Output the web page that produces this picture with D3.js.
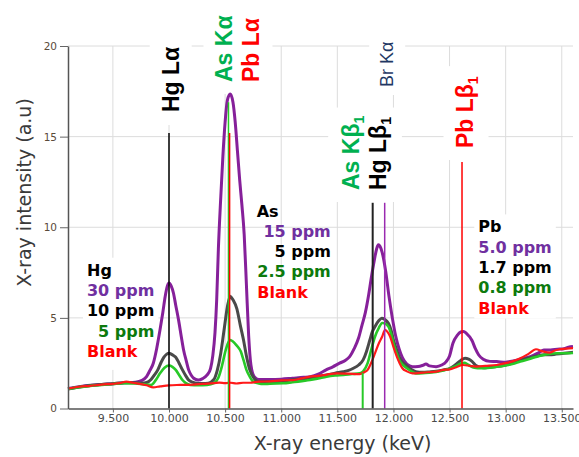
<!DOCTYPE html>
<html>
<head>
<meta charset="utf-8">
<script src="https://cdn.jsdelivr.net/npm/d3@7"></script>
<style>
  body { margin: 0; background: #fff; }
</style>
</head>
<body>
<script>
'use strict';

// ---- data ----
const xTicks = [9.5, 10.0, 10.5, 11.0, 11.5, 12.0, 12.5, 13.0, 13.5];
const yTicks = [0, 5, 10, 15, 20];

// [energy keV, intensity a.u.]
const highConc = [[9.10,1.10],[9.20,1.20],[9.30,1.28],[9.40,1.33],[9.50,1.37],[9.60,1.42],[9.70,1.45],[9.76,1.55],[9.80,1.76],[9.83,2.1],[9.86,2.5],[9.89,3.3],[9.92,4.34],[9.945,5.3],[9.966,6.18],[9.985,6.75],[10.00,6.92],[10.02,6.75],[10.04,6.36],[10.06,5.7],[10.085,4.89],[10.11,3.95],[10.13,3.23],[10.155,2.6],[10.175,2.13],[10.20,1.82],[10.22,1.67],[10.26,1.57],[10.30,1.65],[10.34,1.85],[10.37,2.2],[10.39,2.9],[10.41,4.2],[10.425,6.0],[10.44,8.8],[10.46,11.5],[10.48,13.9],[10.50,15.8],[10.52,17.0],[10.545,17.35],[10.57,16.9],[10.59,15.8],[10.61,14.2],[10.63,12.6],[10.65,11.2],[10.67,9.6],[10.69,6.8],[10.71,4.0],[10.73,2.4],[10.76,1.75],[10.80,1.6],[10.90,1.6],[11.00,1.62],[11.10,1.67],[11.20,1.72],[11.26,1.76],[11.33,1.9],[11.40,2.13],[11.46,2.3],[11.52,2.5],[11.57,2.65],[11.61,2.86],[11.65,3.3],[11.69,3.9],[11.72,4.6],[11.75,5.3],[11.78,6.3],[11.80,7.1],[11.83,8.2],[11.85,8.8],[11.865,9.03],[11.88,8.95],[11.90,8.6],[11.93,7.6],[11.96,6.2],[11.99,5.0],[12.02,4.0],[12.05,3.3],[12.08,2.8],[12.12,2.45],[12.17,2.31],[12.22,2.32],[12.26,2.38],[12.29,2.45],[12.32,2.35],[12.38,2.31],[12.43,2.4],[12.47,2.59],[12.50,2.9],[12.53,3.6],[12.57,4.05],[12.60,4.22],[12.625,4.25],[12.65,4.15],[12.70,3.75],[12.73,3.3],[12.76,2.95],[12.80,2.72],[12.86,2.6],[12.92,2.59],[13.00,2.55],[13.04,2.59],[13.13,2.72],[13.22,2.86],[13.30,3.1],[13.34,3.23],[13.40,3.23],[13.46,3.27],[13.52,3.3],[13.56,3.38],[13.60,3.42]];

const midConc = [[9.10,1.08],[9.20,1.18],[9.30,1.27],[9.40,1.33],[9.50,1.37],[9.60,1.42],[9.70,1.42],[9.76,1.40],[9.80,1.43],[9.84,1.6],[9.87,1.85],[9.90,2.13],[9.93,2.55],[9.955,2.83],[9.98,3.0],[10.00,3.05],[10.02,3.0],[10.04,2.92],[10.06,2.83],[10.09,2.5],[10.12,2.13],[10.15,1.8],[10.175,1.57],[10.21,1.45],[10.25,1.39],[10.30,1.38],[10.35,1.4],[10.40,1.6],[10.43,2.1],[10.46,3.0],[10.49,4.3],[10.52,5.6],[10.545,6.2],[10.57,6.0],[10.605,5.5],[10.635,4.6],[10.664,3.78],[10.69,2.9],[10.72,2.13],[10.76,1.65],[10.80,1.48],[10.90,1.47],[11.00,1.5],[11.10,1.58],[11.20,1.64],[11.26,1.67],[11.33,1.76],[11.405,1.85],[11.48,1.95],[11.554,2.03],[11.60,2.1],[11.643,2.22],[11.69,2.4],[11.73,2.68],[11.76,3.15],[11.79,3.78],[11.81,4.2],[11.836,4.52],[11.87,4.85],[11.896,4.98],[11.92,4.92],[11.955,4.7],[11.98,4.3],[12.00,3.78],[12.025,3.3],[12.05,2.86],[12.08,2.55],[12.12,2.35],[12.16,2.15],[12.20,2.03],[12.26,2.0],[12.32,2.02],[12.38,2.05],[12.445,2.13],[12.50,2.2],[12.55,2.4],[12.60,2.65],[12.638,2.77],[12.67,2.72],[12.70,2.6],[12.74,2.35],[12.80,2.25],[12.86,2.28],[12.92,2.31],[13.00,2.4],[13.06,2.5],[13.13,2.66],[13.20,2.78],[13.28,2.9],[13.34,2.96],[13.39,2.96],[13.45,3.0],[13.52,3.05],[13.60,3.1]];

const lowConc = [[9.10,1.08],[9.20,1.18],[9.30,1.25],[9.40,1.3],[9.50,1.35],[9.60,1.4],[9.70,1.38],[9.78,1.33],[9.84,1.3],[9.88,1.55],[9.92,1.94],[9.96,2.25],[10.00,2.37],[10.03,2.3],[10.06,2.13],[10.09,1.85],[10.12,1.57],[10.15,1.4],[10.19,1.3],[10.26,1.28],[10.34,1.3],[10.40,1.4],[10.44,1.7],[10.47,2.3],[10.50,3.1],[10.525,3.6],[10.545,3.78],[10.57,3.7],[10.60,3.5],[10.64,3.14],[10.665,2.65],[10.69,2.13],[10.72,1.75],[10.75,1.48],[10.80,1.38],[10.84,1.35],[10.90,1.37],[11.02,1.39],[11.10,1.45],[11.256,1.57],[11.33,1.66],[11.405,1.76],[11.48,1.82],[11.554,1.85],[11.63,1.9],[11.70,1.94],[11.73,2.05],[11.77,2.5],[11.80,3.2],[11.836,3.97],[11.87,4.45],[11.90,4.72],[11.92,4.7],[11.955,4.52],[11.98,4.1],[12.00,3.6],[12.025,3.1],[12.05,2.68],[12.085,2.4],[12.12,2.22],[12.16,2.05],[12.20,1.94],[12.26,1.95],[12.32,1.98],[12.38,2.02],[12.445,2.1],[12.50,2.2],[12.56,2.35],[12.60,2.48],[12.63,2.52],[12.67,2.4],[12.72,2.25],[12.78,2.22],[12.86,2.25],[12.92,2.3],[13.00,2.38],[13.06,2.45],[13.13,2.59],[13.22,2.75],[13.30,2.9],[13.36,2.98],[13.46,3.05],[13.52,3.05],[13.60,3.06]];

const blank = [[9.10,1.1],[9.20,1.2],[9.30,1.25],[9.40,1.32],[9.50,1.36],[9.56,1.4],[9.62,1.48],[9.68,1.42],[9.74,1.36],[9.80,1.28],[9.86,1.17],[9.92,1.22],[10.00,1.28],[10.10,1.3],[10.22,1.32],[10.30,1.36],[10.40,1.4],[10.45,1.43],[10.50,1.4],[10.55,1.42],[10.60,1.38],[10.66,1.42],[10.72,1.42],[10.80,1.48],[10.90,1.5],[11.00,1.55],[11.107,1.57],[11.18,1.66],[11.256,1.76],[11.33,1.8],[11.40,1.86],[11.495,1.94],[11.60,1.92],[11.70,1.9],[11.74,2.0],[11.77,2.13],[11.80,2.5],[11.836,3.05],[11.87,3.6],[11.90,3.97],[11.925,4.34],[11.95,4.2],[11.97,3.97],[12.00,3.4],[12.03,2.86],[12.055,2.5],[12.08,2.22],[12.12,2.05],[12.17,1.94],[12.22,1.95],[12.30,2.0],[12.38,2.03],[12.445,2.13],[12.50,2.16],[12.56,2.28],[12.62,2.4],[12.68,2.35],[12.74,2.31],[12.82,2.35],[12.92,2.4],[13.00,2.5],[13.06,2.6],[13.13,2.77],[13.20,3.0],[13.27,3.27],[13.33,3.15],[13.39,3.08],[13.44,3.2],[13.48,3.27],[13.54,3.3],[13.60,3.33]];

// emission line markers: [name, energy keV, top of line a.u.]
const markerLines = [["Hg La",10.0,15.2],["As Ka",10.53,16.9],["Pb La",10.54,15.2],["As Kb",11.726,1.97],["Hg Lb",11.815,11.35],["Br Ka",11.922,11.35],["Pb Lb",12.611,13.6]];

const hgLegend = ["Hg", "30 ppm", "10 ppm", "5 ppm", "Blank"];
const asLegend = ["As", "15 ppm", "5 ppm", "2.5 ppm", "Blank"];
const pbLegend = ["Pb", "5.0 ppm", "1.7 ppm", "0.8 ppm", "Blank"];

// ---- styles ----
const C = {
  purple: "#86209a", gray: "#4a4a4a", lime: "#27c927", red: "#ff1a1a",
  legPurple: "#7030a0", legGreen: "#0d7a0d", labGreen: "#00b050", navy: "#1f3864"
};
const markerStyle = {
  "Hg La": ["#000", 1.5], "As Ka": [C.lime, 1.5], "Pb La": ["#ff0000", 1.5],
  "As Kb": [C.lime, 2], "Hg Lb": ["#222", 2], "Br Ka": ["#9a2ab0", 1.5], "Pb Lb": ["#ff0000", 1.5]
};
const legendColors = ["#000", C.legPurple, "#000", C.legGreen, "#ff0000"];

const W = 579, H = 457;
const svg = d3.select("body").append("svg").attr("width", W).attr("height", H);

const x = d3.scaleLinear().domain([9.1, 13.6]).range([68, 573]);
const y = d3.scaleLinear().domain([0, 20]).range([408.5, 46]);

const gGrid = svg.append("g");
const gBoxes = svg.append("g");
const gCurves = svg.append("g");
const gMarkers = svg.append("g");
const gText = svg.append("g");
const gAxes = svg.append("g");

// grid
gGrid.selectAll(".vg").data(xTicks).enter().append("line")
  .attr("x1", d => x(d)).attr("x2", d => x(d))
  .attr("y1", y(20)).attr("y2", y(0))
  .attr("stroke", "#dcdcdc").attr("stroke-width", 1);
gGrid.selectAll(".hg").data(yTicks.filter(d => d > 0)).enter().append("line")
  .attr("x1", x(9.1)).attr("x2", x(13.6))
  .attr("y1", d => y(d)).attr("y2", d => y(d))
  .attr("stroke", "#dcdcdc").attr("stroke-width", 1);

// curves
const line = d3.line().x(d => x(d[0])).y(d => y(d[1])).curve(d3.curveMonotoneX);
const curves = [[highConc, C.purple, 3], [midConc, C.gray, 3], [lowConc, C.lime, 2.6], [blank, C.red, 2.2]];
curves.forEach(c => {
  gCurves.append("path").datum(c[0]).attr("d", line)
    .attr("fill", "none").attr("stroke", c[1]).attr("stroke-width", c[2])
    .attr("stroke-linejoin", "round");
});

// marker lines
gMarkers.selectAll("line").data(markerLines).enter().append("line")
  .attr("x1", d => x(d[1])).attr("x2", d => x(d[1]))
  .attr("y1", d => y(d[2])).attr("y2", y(0))
  .attr("stroke", d => markerStyle[d[0]][0])
  .attr("stroke-width", d => markerStyle[d[0]][1]);

// rotated peak labels, each sitting on a white box that hides the grid
const peakLabels = [
  { parts: [["Hg Lα", "#000"]], e: 10.0, dx: 9.7, y0: 112, pad: [10, 13, 8, 8] },
  { parts: [["As Kα", C.labGreen], ["Pb Lα", "#ff0000"]], e: 10.53, dx: 4, y0: 82, gap: 27, pad: [8, 12, 8, 8] },
  { parts: [["Br Kα", C.navy]], e: 11.922, dx: 8.5, y0: 87, size: 18, weight: "normal", pad: [6, 8, 8, 8] },
  { parts: [["As Kβ", C.labGreen, "1"], ["Hg Lβ", "#000", "1"]], e: 11.726, dx: -3.5, y0: 190, gap: 26.7, pad: [8, 12, 10, 8] },
  { parts: [["Pb Lβ", "#ff0000", "1"]], e: 12.611, dx: 10.5, y0: 148, pad: [10, 12, 8, 8] }
];

peakLabels.forEach(lb => {
  const g = gText.append("g");
  lb.parts.forEach((p, i) => {
    const bx = x(lb.e) + lb.dx + i * (lb.gap || 0);
    const t = g.append("text")
      .attr("transform", `translate(${bx},${lb.y0}) rotate(-90)`)
      .attr("font-family", "'Liberation Sans', Arial, sans-serif")
      .attr("font-size", lb.size || 23)
      .attr("font-weight", lb.weight || "bold")
      .attr("fill", p[1]);
    t.append("tspan").text(p[0]);
    if (p[2]) {
      t.append("tspan").attr("dy", 5).attr("font-size", 14).text(p[2]);
    }
  });
  const bb = g.node().getBBox();
  const pad = lb.pad; // top, bottom, left, right
  gBoxes.append("rect")
    .attr("x", bb.x - pad[2]).attr("y", bb.y - pad[0])
    .attr("width", bb.width + pad[2] + pad[3])
    .attr("height", bb.height + pad[0] + pad[1])
    .attr("fill", "#fff");
});

// concentration legends
function drawLegend(items, opts) {
  const g = gText.append("g")
    .attr("font-family", "'DejaVu Sans', Verdana, sans-serif")
    .attr("font-size", 16).attr("font-weight", "bold");
  items.forEach((s, i) => {
    const rightAlign = opts.right && i > 0 && i < items.length - 1;
    g.append("text")
      .attr("x", rightAlign ? opts.right : (i === items.length - 1 ? opts.blankX : opts.left))
      .attr("y", opts.top + i * opts.step)
      .attr("text-anchor", rightAlign ? "end" : "start")
      .attr("fill", legendColors[i])
      .text(s);
  });
  if (opts.box) {
    const bb = g.node().getBBox();
    gBoxes.append("rect")
      .attr("x", bb.x - 4).attr("y", bb.y - 3)
      .attr("width", bb.width + 8).attr("height", bb.height + opts.box)
      .attr("fill", "#fff");
  }
}
drawLegend(hgLegend, { left: 87, blankX: 87, right: 154.4, top: 275.7, step: 20.3, box: 12 });
drawLegend(asLegend, { left: 256.7, blankX: 257.3, right: 330.8, top: 216.7, step: 20.2 });
drawLegend(pbLegend, { left: 478.3, blankX: 478.3, top: 232.4, step: 20.3, box: 4 });

// axes
const xAxis = d3.axisBottom(x).tickValues(xTicks).tickFormat(d3.format(".3f"))
  .tickSizeInner(4).tickSizeOuter(0).tickPadding(2);
const gx = gAxes.append("g").attr("transform", `translate(0,${y(0)})`).call(xAxis);
const yAxis = d3.axisLeft(y).tickValues(yTicks).tickFormat(d3.format("d"))
  .tickSizeInner(8).tickSizeOuter(0).tickPadding(3);
const gy = gAxes.append("g").attr("transform", `translate(${x(9.1)},0)`).call(yAxis);

[gx, gy].forEach(g => {
  g.select(".domain").attr("stroke", "#555").attr("stroke-width", 1.5);
  g.selectAll(".tick line").attr("stroke", "#666");
  g.selectAll(".tick text").attr("fill", "#4a4a4a")
    .attr("font-family", "'DejaVu Sans', Verdana, sans-serif");
});
gx.selectAll(".tick text").attr("font-size", 11);
gy.selectAll(".tick text").attr("font-size", 10.5).attr("fill", "#5a4a3a");

// axis titles
svg.append("text")
  .attr("x", 342.5).attr("y", 450)
  .attr("text-anchor", "middle")
  .attr("font-family", "'DejaVu Sans', Verdana, sans-serif")
  .attr("font-size", 19).attr("fill", "#3a3a3a")
  .text("X-ray energy (keV)");

svg.append("text")
  .attr("transform", "translate(31,192.5) rotate(-90)")
  .attr("text-anchor", "middle")
  .attr("font-family", "'DejaVu Sans', Verdana, sans-serif")
  .attr("font-size", 19).attr("fill", "#3a3a3a")
  .text("X-ray intensity (a.u)");
</script>
</body>
</html>
